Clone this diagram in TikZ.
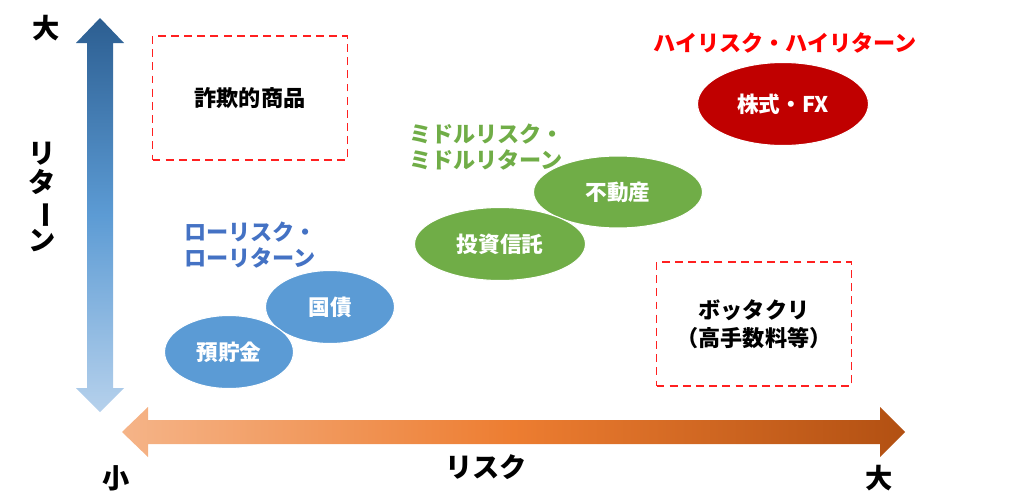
\documentclass[tikz,border=0pt]{standalone}
\usepackage{fontspec}
\setmainfont{Noto Sans CJK JP}
\usepackage{xcolor}
\usepackage{tikz}
\usetikzlibrary{shapes.geometric, positioning}

\definecolor{hiRed}{HTML}{C00000}
\definecolor{midGreen}{HTML}{70AD47}
\definecolor{lowBlue}{HTML}{5B9BD5}
\definecolor{lowText}{HTML}{4472C4}
\definecolor{boxRed}{HTML}{FF2020}

\begin{document}
\begin{tikzpicture}[x=0.02cm, y=-0.02cm,
    asset/.style={ellipse, draw=white, line width=0.6pt, inner sep=0pt, text=white,
        font=\bfseries\fontsize{12.3}{14}\selectfont},
    riskbox/.style={draw=boxRed, line width=1.1pt, dash pattern=on 4.5pt off 3pt,
        minimum width=3.9cm, minimum height=2.48cm, align=center,
        font=\bfseries\fontsize{12.6}{16}\selectfont},
    cat/.style={anchor=west, align=left, font=\bfseries\fontsize{12.6}{15}\selectfont},
    axislbl/.style={font=\bfseries\fontsize{15.5}{16}\selectfont}]
    % Khung ảnh
    \useasboundingbox (0,0) rectangle (1024,497);

    % Trục lợi nhuận (dọc)
    \path[top color={rgb,255:red,44;green,94;blue,145}, bottom color={rgb,255:red,182;green,209;blue,236},
          middle color={rgb,255:red,92;green,155;blue,212}]
        (100,18) -- (124,43) -- (113,43) -- (113,388) -- (124,388) -- (100,412)
        -- (76,388) -- (87,388) -- (87,43) -- (76,43) -- cycle;
    % Trục rủi ro (ngang)
    \path[left color={rgb,255:red,245;green,180;blue,136}, right color={rgb,255:red,178;green,80;blue,18},
          middle color={rgb,255:red,237;green,125;blue,49}]
        (122,432) -- (148,407) -- (148,420) -- (880,420) -- (880,407) -- (905,432)
        -- (880,457) -- (880,444) -- (148,444) -- (148,457) -- cycle;

    % Nhãn các trục
    \node[axislbl] (retBig) at (46,28) {大};
    \node[axislbl, align=center, font=\bfseries\fontsize{15.5}{16.5}\selectfont] (retLbl) at (42,197)
        {リ\\タ\\\rotatebox[origin=c]{-90}{ー}\\ン};
    \node[axislbl] (riskSmall) at (116,478) {小};
    \node[axislbl] (riskLbl) at (486,467) {リスク};
    \node[axislbl] (riskBig) at (879,478) {大};

    % Các khung nét đứt
    \node[riskbox] (fraud) at (250,98) {詐欺的商品};
    \node[riskbox] (rip) at (754,324) {ボッタクリ\\（高手数料等）};

    % Nhóm rủi ro cao
    \node[cat, text=red, anchor=center] (hiLbl) at (785,43) {ハイリスク・ハイリターン};
    \node[asset, fill=hiRed, minimum width=3.42cm, minimum height=1.66cm] (stock) at (783,104) {株式・FX};

    % Nhóm rủi ro trung bình
    \node[cat, text=midGreen] (midLbl) at (403,147) {ミドルリスク・\\ミドルリターン};
    \node[asset, fill=midGreen, minimum width=3.38cm, minimum height=1.44cm] (estate) at (618,192) {不動産};
    \node[asset, fill=midGreen, minimum width=3.42cm, minimum height=1.46cm] (fund) at (500,244) {投資信託};

    % Nhóm rủi ro thấp
    \node[cat, text=lowText] (lowLbl) at (178,245) {ローリスク・\\ローリターン};
    \node[asset, fill=lowBlue, minimum width=2.58cm, minimum height=1.46cm] (bond) at (330,307) {国債};
    \node[asset, fill=lowBlue, minimum width=2.58cm, minimum height=1.46cm] (deposit) at (229,352) {預貯金};
\end{tikzpicture}
\end{document}
